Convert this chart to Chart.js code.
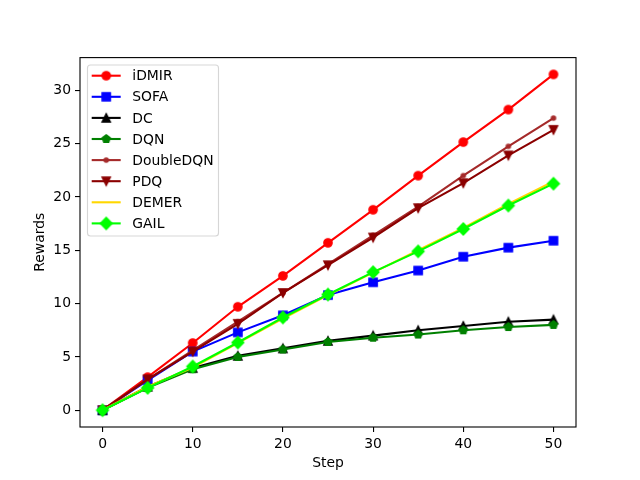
<!DOCTYPE html>
<html>
<head>
<meta charset="utf-8">
<script src="https://cdn.jsdelivr.net/npm/chart.js@4/dist/chart.umd.min.js"></script>
<style>
  html, body { margin: 0; padding: 0; background: #fff; }
  canvas { display: block; }
</style>
</head>
<body>
<canvas id="chart" width="640" height="480"></canvas>
<script>
const steps = [0, 5, 10, 15, 20, 25, 30, 35, 40, 45, 50];
const xTicks = [0, 10, 20, 30, 40, 50];
const yTicks = [0, 5, 10, 15, 20, 25, 30];

const idmir = [0, 3.1, 6.3, 9.7, 12.6, 15.7, 18.8, 22.0, 25.15, 28.2, 31.5];
const sofa = [0, 2.8, 5.5, 7.3, 8.9, 10.8, 12.0, 13.1, 14.4, 15.25, 15.9];
const dc = [0, 2.2, 3.95, 5.1, 5.8, 6.5, 7.0, 7.5, 7.9, 8.3, 8.5];
const dqn = [0, 2.1, 3.85, 5.0, 5.7, 6.4, 6.8, 7.1, 7.5, 7.8, 8.0];
const doubleDqn = [0, 2.9, 5.6, 8.3, 11.0, 13.7, 16.4, 19.1, 22.0, 24.75, 27.4];
const pdq = [0, 2.9, 5.5, 8.1, 11.0, 13.6, 16.2, 18.95, 21.3, 23.9, 26.3];
const demer = [0, 2.2, 4.0, 6.3, 8.6, 10.8, 12.9, 15.0, 17.1, 19.35, 21.45];
const gail = [0, 2.1, 4.1, 6.35, 8.7, 10.85, 12.95, 14.9, 17.0, 19.2, 21.25];

const FONT = "'DejaVu Sans', sans-serif";

// matplotlib-like marker glyphs drawn once into small canvases
function makeMarker(shape, color) {
  const c = document.createElement("canvas");
  c.width = 16;
  c.height = 16;
  const ctx = c.getContext("2d");
  const h = 4.15;
  ctx.translate(8, 8);
  ctx.beginPath();
  if (shape === "circle") {
    ctx.arc(0, 0, h, 0, Math.PI * 2);
  } else if (shape === "point") {
    ctx.arc(0, 0, h * 0.5, 0, Math.PI * 2);
  } else if (shape === "square") {
    ctx.rect(-h, -h, 2 * h, 2 * h);
  } else if (shape === "up") {
    ctx.moveTo(0, -h); ctx.lineTo(-h, h); ctx.lineTo(h, h); ctx.closePath();
  } else if (shape === "down") {
    ctx.moveTo(0, h); ctx.lineTo(-h, -h); ctx.lineTo(h, -h); ctx.closePath();
  } else if (shape === "pentagon") {
    for (let i = 0; i < 5; i++) {
      const a = -Math.PI / 2 + i * 2 * Math.PI / 5;
      const px = Math.cos(a) * h, py = Math.sin(a) * h;
      if (i === 0) ctx.moveTo(px, py); else ctx.lineTo(px, py);
    }
    ctx.closePath();
  } else if (shape === "diamond") {
    const d = 5.9;
    ctx.moveTo(0, -d); ctx.lineTo(d, 0); ctx.lineTo(0, d); ctx.lineTo(-d, 0); ctx.closePath();
  }
  ctx.fillStyle = color;
  ctx.strokeStyle = color;
  ctx.lineWidth = 1.4;
  ctx.fill();
  ctx.stroke();
  return c;
}

const series = [
  { label: "iDMIR", data: idmir, color: "#ff0000", marker: "circle" },
  { label: "SOFA", data: sofa, color: "#0000ff", marker: "square" },
  { label: "DC", data: dc, color: "#000000", marker: "up" },
  { label: "DQN", data: dqn, color: "#008000", marker: "pentagon" },
  { label: "DoubleDQN", data: doubleDqn, color: "#a52a2a", marker: "point" },
  { label: "PDQ", data: pdq, color: "#8b0000", marker: "down" },
  { label: "DEMER", data: demer, color: "#ffd700", marker: null },
  { label: "GAIL", data: gail, color: "#00ff00", marker: "diamond" }
];

const datasets = series.map((s, i) => ({
  label: s.label,
  data: steps.map((x, j) => ({ x, y: s.data[j] })),
  borderColor: s.color,
  backgroundColor: s.color,
  borderWidth: 2.1,
  pointStyle: s.marker ? makeMarker(s.marker, s.color) : false,
  pointRadius: s.marker ? 5 : 0,
  tension: 0,
  order: -i,
  markerCanvas: s.marker ? makeMarker(s.marker, s.color) : null
}));

const framePlugin = {
  id: "frame",
  afterDatasetsDraw(chart) {
    const { ctx, chartArea: a } = chart;
    ctx.save();
    ctx.strokeStyle = "#000";
    ctx.lineWidth = 1.1;
    ctx.strokeRect(a.left, a.top, a.right - a.left, a.bottom - a.top);
    ctx.restore();
  }
};

const legendPlugin = {
  id: "mplLegend",
  afterDraw(chart) {
    const { ctx } = chart;
    const x0 = 87.5, y0 = 65, w = 131, h = 171;
    const rowTop = 75.7, rowGap = 21.1;
    ctx.save();
    ctx.beginPath();
    ctx.roundRect(x0, y0, w, h, 3);
    ctx.fillStyle = "rgba(255,255,255,0.8)";
    ctx.fill();
    ctx.strokeStyle = "rgba(204,204,204,0.8)";
    ctx.lineWidth = 1.1;
    ctx.stroke();
    chart.data.datasets.forEach((ds, i) => {
      const y = rowTop + i * rowGap;
      ctx.beginPath();
      ctx.moveTo(91.7, y);
      ctx.lineTo(120.7, y);
      ctx.strokeStyle = ds.borderColor;
      ctx.lineWidth = 2.1;
      ctx.stroke();
      if (ds.markerCanvas) {
        ctx.drawImage(ds.markerCanvas, 106.2 - 8, y - 8);
      }
      ctx.fillStyle = "#000";
      ctx.font = "13.9px " + FONT;
      ctx.textBaseline = "middle";
      ctx.textAlign = "left";
      ctx.fillText(ds.label, 132.3, y + 1);
    });
    ctx.restore();
  }
};

new Chart(document.getElementById("chart"), {
  type: "line",
  data: { datasets },
  options: {
    responsive: false,
    animation: false,
    events: [],
    layout: { padding: { left: 0, top: 57.6, right: 64, bottom: 0 } },
    plugins: {
      legend: { display: false },
      tooltip: { enabled: false }
    },
    scales: {
      x: {
        type: "linear",
        min: -2.5,
        max: 52.5,
        afterBuildTicks: scale => { scale.ticks = xTicks.map(v => ({ value: v })); },
        afterFit: scale => { scale.height = 53; },
        border: { display: false },
        grid: { display: true, drawOnChartArea: false, drawTicks: true, tickLength: 5, color: "#000", lineWidth: 1.1 },
        ticks: { color: "#000", padding: 4, font: { family: FONT, size: 13.9 }, maxRotation: 0 },
        title: { display: true, text: "Step", color: "#000", font: { family: FONT, size: 13.9 }, padding: { top: 0, bottom: 8.7 } }
      },
      y: {
        min: -1.575,
        max: 33.075,
        afterBuildTicks: scale => { scale.ticks = yTicks.map(v => ({ value: v })); },
        afterFit: scale => { scale.width = 80; },
        border: { display: false },
        grid: { display: true, drawOnChartArea: false, drawTicks: true, tickLength: 5, color: "#000", lineWidth: 1.1 },
        ticks: { color: "#000", padding: 4, font: { family: FONT, size: 13.9 } },
        title: { display: true, text: "Rewards", color: "#000", font: { family: FONT, size: 13.9 }, padding: { top: 31.7, bottom: 0 } }
      }
    }
  },
  plugins: [framePlugin, legendPlugin]
});
</script>
</body>
</html>
